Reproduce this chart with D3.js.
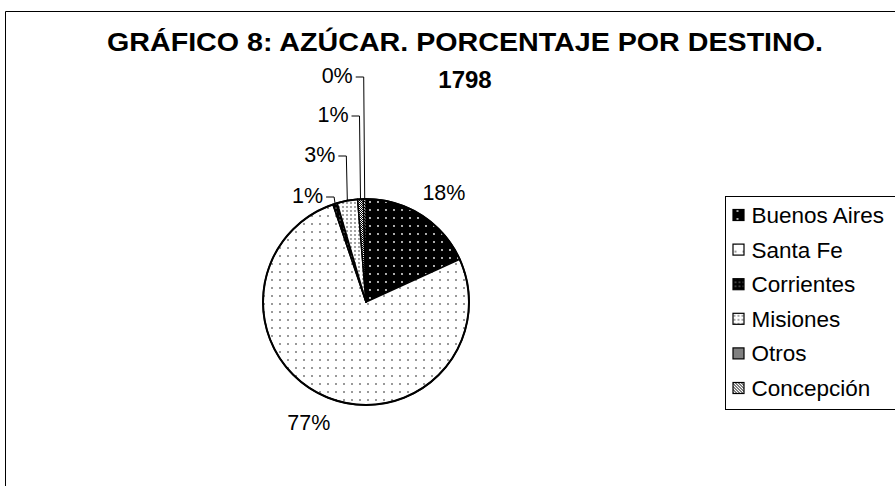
<!DOCTYPE html>
<html>
<head>
<meta charset="utf-8">
<script src="https://cdn.jsdelivr.net/npm/d3@7"></script>
<style>
  body { margin: 0; background: #fff; }
  svg { display: block; font-family: Arial, "Liberation Sans", sans-serif; }
</style>
</head>
<body>
<div id="chartVis"><svg width="895" height="486"></svg></div>
<script>
// datos
const destinos = ["Buenos Aires", "Santa Fe", "Corrientes", "Misiones", "Otros", "Concepción"];
const porcentajes = [18.2, 76.6, 0.7, 3.2, 0.9, 0.4];
const titulo = ["GRÁFICO 8: AZÚCAR. PORCENTAJE POR DESTINO.", "1798"];

// baselines for the stacked labels of the small slices (Corrientes, Misiones, Otros, Concepción)
const leaderBaselines = [203, 162, 122, 83];

function createPie() {
    const width = 895, height = 486;
    const cx = 366, cy = 302, radius = 103;

    const svg = d3.select("#chartVis svg");
    svg.html("");

    svg.append("rect").attr("width", width).attr("height", height).attr("fill", "#fff");

    // patterns, one per destino
    const defs = svg.append("defs");
    const pats = [
        {size: 8, bg: "#000", fg: "#fff", dots: [[4, 4]], r: 0.9},
        {size: 8, bg: "#fff", fg: "#000", dots: [[2, 2]], r: 0.75},
        {size: 4, bg: "#000", fg: "#fff", dots: [[2, 2]], r: 0.6},
        {size: 4, bg: "#fff", fg: "#000", dots: [[1, 1]], r: 0.65},
        {size: 2, bg: "#000", fg: "#fff", sq: [[0, 0], [1, 1]]},
        {size: 3, bg: "#fff", fg: "#000", sq: [[0, 0], [1, 1], [2, 2]]}
    ];
    pats.forEach((p, i) => {
        const pat = defs.append("pattern")
            .attr("id", "pat" + i)
            .attr("patternUnits", "userSpaceOnUse")
            .attr("width", p.size)
            .attr("height", p.size);
        pat.append("rect").attr("width", p.size).attr("height", p.size).attr("fill", p.bg);
        (p.dots || []).forEach(d => {
            pat.append("circle").attr("cx", d[0]).attr("cy", d[1]).attr("r", p.r).attr("fill", p.fg);
        });
        (p.sq || []).forEach(d => {
            pat.append("rect").attr("x", d[0]).attr("y", d[1]).attr("width", 1).attr("height", 1).attr("fill", p.fg);
        });
    });

    // chart frame (clipped at right and bottom)
    svg.append("path")
        .attr("d", `M5.5,${height} V11.5 H${width}`)
        .attr("fill", "none")
        .attr("stroke", "#000")
        .attr("stroke-width", 1);

    // title
    svg.append("text")
        .attr("x", 465)
        .attr("y", 51)
        .attr("text-anchor", "middle")
        .attr("textLength", 716)
        .attr("lengthAdjust", "spacingAndGlyphs")
        .style("font-size", "26px")
        .style("font-weight", "bold")
        .text(titulo[0]);
    svg.append("text")
        .attr("x", 465)
        .attr("y", 88)
        .attr("text-anchor", "middle")
        .style("font-size", "24px")
        .style("font-weight", "bold")
        .text(titulo[1]);

    const data = destinos.map((d, i) => ({destino: d, valor: porcentajes[i], idx: i}));

    const pie = d3.pie()
        .sort(null)
        .value(d => d.valor);
    const arcs = pie(data);

    const arc = d3.arc().innerRadius(0).outerRadius(radius);

    const g = svg.append("g").attr("transform", `translate(${cx},${cy})`);

    g.selectAll("path.slice")
        .data(arcs)
        .join("path")
        .attr("class", "slice")
        .attr("d", arc)
        .attr("fill", d => `url(#pat${d.data.idx})`)
        .attr("stroke", "#000")
        .attr("stroke-width", 1.5)
        .attr("stroke-linejoin", "round");

    g.append("circle")
        .attr("r", radius)
        .attr("fill", "none")
        .attr("stroke", "#000")
        .attr("stroke-width", 2);

    const total = d3.sum(porcentajes);
    const fmt = d => Math.round(d.data.valor / total * 100) + "%";
    const labelFont = "21.5px";

    // big slices: label outside along the mid angle
    const big = arcs.filter(d => d.data.valor / total >= 0.05);
    big.forEach(d => {
        const a = (d.startAngle + d.endAngle) / 2;
        const s = Math.sin(a), c = Math.cos(a);
        const rr = radius + 20;
        const bx = s * rr + s * 21;
        const by = -c * rr - c * 8;
        g.append("text")
            .attr("x", bx)
            .attr("y", by + 7.7)
            .attr("text-anchor", "middle")
            .style("font-size", labelFont)
            .text(fmt(d));
    });

    // small slices: stacked labels with leader lines
    const small = arcs.filter(d => d.data.valor / total < 0.05);
    small.forEach((d, i) => {
        const a = (d.startAngle + d.endAngle) / 2;
        const ax = Math.sin(a) * radius;
        const ay = -Math.cos(a) * radius;
        const base = leaderBaselines[i] - cy;
        const ly = base - 6;
        const tx = ax - 12;
        g.append("text")
            .attr("x", tx)
            .attr("y", base)
            .attr("text-anchor", "end")
            .style("font-size", labelFont)
            .text(fmt(d));
        g.append("path")
            .attr("d", `M${tx + 3},${ly} H${ax - 1} L${ax},${ay}`)
            .attr("fill", "none")
            .attr("stroke", "#000")
            .attr("stroke-width", 1);
    });

    // legend
    const legend = svg.append("g").attr("transform", "translate(725.5,196.5)");
    legend.append("rect")
        .attr("width", 200)
        .attr("height", 213)
        .attr("fill", "#fff")
        .attr("stroke", "#000")
        .attr("stroke-width", 1);

    const row = d3.scalePoint()
        .domain(destinos)
        .range([18.5, 191.5]);

    const items = legend.selectAll("g.item")
        .data(data)
        .join("g")
        .attr("class", "item")
        .attr("transform", d => `translate(0,${row(d.destino)})`);
    items.append("rect")
        .attr("x", 7.5)
        .attr("y", -5.5)
        .attr("width", 11)
        .attr("height", 11)
        .attr("fill", d => `url(#pat${d.idx})`)
        .attr("stroke", "#000")
        .attr("stroke-width", 1.2);
    items.append("text")
        .attr("x", 26)
        .attr("y", 8)
        .style("font-size", "22.5px")
        .text(d => d.destino);
}

document.addEventListener('DOMContentLoaded', createPie);
</script>
</body>
</html>
